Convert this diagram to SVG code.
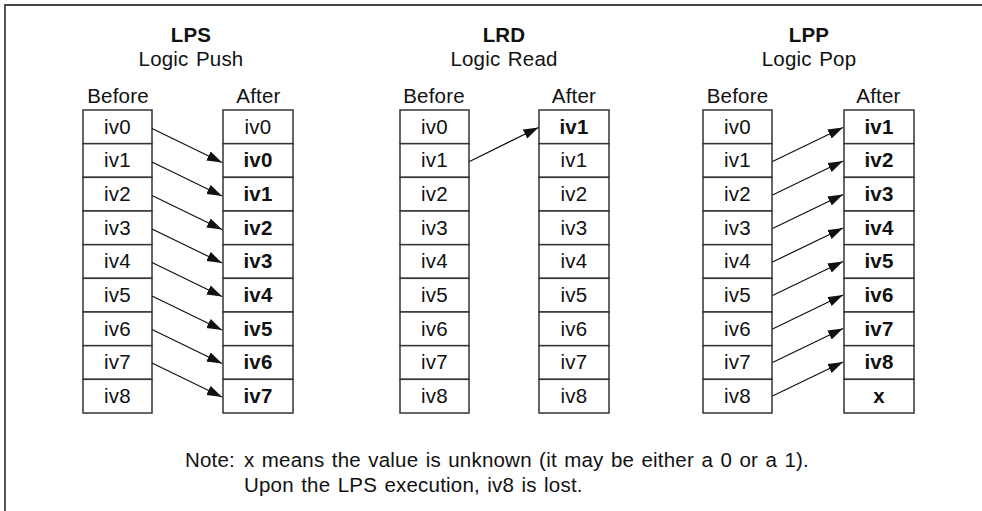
<svg xmlns="http://www.w3.org/2000/svg" width="982" height="511" viewBox="0 0 982 511">
<style>
text{font-family:"Liberation Sans",Arial,sans-serif;font-size:20.5px;letter-spacing:0.2px;word-spacing:1.5px;fill:#111;text-anchor:middle}
.b{font-weight:bold}
.note{text-anchor:start}
.cell{fill:#fff;stroke:#333;stroke-width:1.5}
.conn line{stroke:#111;stroke-width:1.2;marker-end:url(#ah)}
</style>
<defs>
<marker id="ah" markerUnits="userSpaceOnUse" markerWidth="16" markerHeight="12" refX="15" refY="5" orient="auto">
<path d="M0,0 L15,5 L0,10 Z" fill="#111"/>
</marker>
</defs>
<rect x="0" y="0" width="982" height="511" fill="#fff"/>
<path d="M5,511 V5 H982" fill="none" stroke="#444" stroke-width="1.8"/>

<g id="lps">
<text x="191" y="42" class="b">LPS</text>
<text x="191" y="66">Logic Push</text>
<g id="lps-before">
<text x="118" y="103">Before</text>
<rect class="cell" x="83" y="110" width="69" height="33.67"/>
<rect class="cell" x="83" y="143.67" width="69" height="33.67"/>
<rect class="cell" x="83" y="177.33" width="69" height="33.67"/>
<rect class="cell" x="83" y="211" width="69" height="33.67"/>
<rect class="cell" x="83" y="244.67" width="69" height="33.67"/>
<rect class="cell" x="83" y="278.33" width="69" height="33.67"/>
<rect class="cell" x="83" y="312" width="69" height="33.67"/>
<rect class="cell" x="83" y="345.67" width="69" height="33.67"/>
<rect class="cell" x="83" y="379.33" width="69" height="33.67"/>
<text x="117.5" y="133.5">iv0</text>
<text x="117.5" y="167.2">iv1</text>
<text x="117.5" y="200.8">iv2</text>
<text x="117.5" y="234.5">iv3</text>
<text x="117.5" y="268.2">iv4</text>
<text x="117.5" y="301.8">iv5</text>
<text x="117.5" y="335.5">iv6</text>
<text x="117.5" y="369.2">iv7</text>
<text x="117.5" y="402.8">iv8</text>
</g>
<g id="lps-after">
<text x="258.5" y="103">After</text>
<rect class="cell" x="223" y="110" width="70" height="33.67"/>
<rect class="cell" x="223" y="143.67" width="70" height="33.67"/>
<rect class="cell" x="223" y="177.33" width="70" height="33.67"/>
<rect class="cell" x="223" y="211" width="70" height="33.67"/>
<rect class="cell" x="223" y="244.67" width="70" height="33.67"/>
<rect class="cell" x="223" y="278.33" width="70" height="33.67"/>
<rect class="cell" x="223" y="312" width="70" height="33.67"/>
<rect class="cell" x="223" y="345.67" width="70" height="33.67"/>
<rect class="cell" x="223" y="379.33" width="70" height="33.67"/>
<text x="258" y="133.5">iv0</text>
<text x="258" y="167.2" class="b">iv0</text>
<text x="258" y="200.8" class="b">iv1</text>
<text x="258" y="234.5" class="b">iv2</text>
<text x="258" y="268.2" class="b">iv3</text>
<text x="258" y="301.8" class="b">iv4</text>
<text x="258" y="335.5" class="b">iv5</text>
<text x="258" y="369.2" class="b">iv6</text>
<text x="258" y="402.8" class="b">iv7</text>
</g>
</g>

<g id="lrd">
<text x="504" y="42" class="b">LRD</text>
<text x="504" y="66">Logic Read</text>
<g id="lrd-before">
<text x="434" y="103">Before</text>
<rect class="cell" x="400" y="110" width="69" height="33.67"/>
<rect class="cell" x="400" y="143.67" width="69" height="33.67"/>
<rect class="cell" x="400" y="177.33" width="69" height="33.67"/>
<rect class="cell" x="400" y="211" width="69" height="33.67"/>
<rect class="cell" x="400" y="244.67" width="69" height="33.67"/>
<rect class="cell" x="400" y="278.33" width="69" height="33.67"/>
<rect class="cell" x="400" y="312" width="69" height="33.67"/>
<rect class="cell" x="400" y="345.67" width="69" height="33.67"/>
<rect class="cell" x="400" y="379.33" width="69" height="33.67"/>
<text x="434.5" y="133.5">iv0</text>
<text x="434.5" y="167.2">iv1</text>
<text x="434.5" y="200.8">iv2</text>
<text x="434.5" y="234.5">iv3</text>
<text x="434.5" y="268.2">iv4</text>
<text x="434.5" y="301.8">iv5</text>
<text x="434.5" y="335.5">iv6</text>
<text x="434.5" y="369.2">iv7</text>
<text x="434.5" y="402.8">iv8</text>
</g>
<g id="lrd-after">
<text x="574" y="103">After</text>
<rect class="cell" x="539" y="110" width="70" height="33.67"/>
<rect class="cell" x="539" y="143.67" width="70" height="33.67"/>
<rect class="cell" x="539" y="177.33" width="70" height="33.67"/>
<rect class="cell" x="539" y="211" width="70" height="33.67"/>
<rect class="cell" x="539" y="244.67" width="70" height="33.67"/>
<rect class="cell" x="539" y="278.33" width="70" height="33.67"/>
<rect class="cell" x="539" y="312" width="70" height="33.67"/>
<rect class="cell" x="539" y="345.67" width="70" height="33.67"/>
<rect class="cell" x="539" y="379.33" width="70" height="33.67"/>
<text x="574" y="133.5" class="b">iv1</text>
<text x="574" y="167.2">iv1</text>
<text x="574" y="200.8">iv2</text>
<text x="574" y="234.5">iv3</text>
<text x="574" y="268.2">iv4</text>
<text x="574" y="301.8">iv5</text>
<text x="574" y="335.5">iv6</text>
<text x="574" y="369.2">iv7</text>
<text x="574" y="402.8">iv8</text>
</g>
</g>

<g id="lpp">
<text x="809" y="42" class="b">LPP</text>
<text x="809" y="66">Logic Pop</text>
<g id="lpp-before">
<text x="737.5" y="103">Before</text>
<rect class="cell" x="703" y="110" width="69" height="33.67"/>
<rect class="cell" x="703" y="143.67" width="69" height="33.67"/>
<rect class="cell" x="703" y="177.33" width="69" height="33.67"/>
<rect class="cell" x="703" y="211" width="69" height="33.67"/>
<rect class="cell" x="703" y="244.67" width="69" height="33.67"/>
<rect class="cell" x="703" y="278.33" width="69" height="33.67"/>
<rect class="cell" x="703" y="312" width="69" height="33.67"/>
<rect class="cell" x="703" y="345.67" width="69" height="33.67"/>
<rect class="cell" x="703" y="379.33" width="69" height="33.67"/>
<text x="737.5" y="133.5">iv0</text>
<text x="737.5" y="167.2">iv1</text>
<text x="737.5" y="200.8">iv2</text>
<text x="737.5" y="234.5">iv3</text>
<text x="737.5" y="268.2">iv4</text>
<text x="737.5" y="301.8">iv5</text>
<text x="737.5" y="335.5">iv6</text>
<text x="737.5" y="369.2">iv7</text>
<text x="737.5" y="402.8">iv8</text>
</g>
<g id="lpp-after">
<text x="878.5" y="103">After</text>
<rect class="cell" x="844" y="110" width="70" height="33.67"/>
<rect class="cell" x="844" y="143.67" width="70" height="33.67"/>
<rect class="cell" x="844" y="177.33" width="70" height="33.67"/>
<rect class="cell" x="844" y="211" width="70" height="33.67"/>
<rect class="cell" x="844" y="244.67" width="70" height="33.67"/>
<rect class="cell" x="844" y="278.33" width="70" height="33.67"/>
<rect class="cell" x="844" y="312" width="70" height="33.67"/>
<rect class="cell" x="844" y="345.67" width="70" height="33.67"/>
<rect class="cell" x="844" y="379.33" width="70" height="33.67"/>
<text x="879" y="133.5" class="b">iv1</text>
<text x="879" y="167.2" class="b">iv2</text>
<text x="879" y="200.8" class="b">iv3</text>
<text x="879" y="234.5" class="b">iv4</text>
<text x="879" y="268.2" class="b">iv5</text>
<text x="879" y="301.8" class="b">iv6</text>
<text x="879" y="335.5" class="b">iv7</text>
<text x="879" y="369.2" class="b">iv8</text>
<text x="879" y="402.8" class="b">x</text>
</g>
</g>

<g id="connectors" class="conn">
<line x1="152" y1="128.5" x2="222" y2="162.5"/>
<line x1="152" y1="162" x2="222" y2="196"/>
<line x1="152" y1="195.5" x2="222" y2="229.5"/>
<line x1="152" y1="229" x2="222" y2="263"/>
<line x1="152" y1="262.5" x2="222" y2="296.5"/>
<line x1="152" y1="296" x2="222" y2="330"/>
<line x1="152" y1="329.5" x2="222" y2="363.5"/>
<line x1="152" y1="363" x2="222" y2="397"/>
<line x1="469.5" y1="161.5" x2="538.5" y2="127.5"/>
<line x1="772.5" y1="161.5" x2="843" y2="127.5"/>
<line x1="772.5" y1="195" x2="843" y2="161"/>
<line x1="772.5" y1="228.5" x2="843" y2="194.5"/>
<line x1="772.5" y1="262" x2="843" y2="228"/>
<line x1="772.5" y1="295.5" x2="843" y2="261.5"/>
<line x1="772.5" y1="329" x2="843" y2="295"/>
<line x1="772.5" y1="362.5" x2="843" y2="328.5"/>
<line x1="772.5" y1="396" x2="843" y2="362"/>
</g>

<g id="note">
<text x="185" y="466.5" class="note">Note:</text>
<text x="244" y="466.5" class="note">x means the value is unknown (it may be either a 0 or a 1).</text>
<text x="244" y="491.5" class="note">Upon the LPS execution, iv8 is lost.</text>
</g>
</svg>
